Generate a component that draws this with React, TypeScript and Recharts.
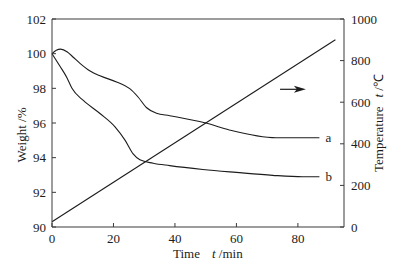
import React from "react";
import {
  ComposedChart,
  Line,
  XAxis,
  YAxis,
  ReferenceLine,
  ReferenceDot,
} from "recharts";

const FONT = '"Liberation Serif", "Times New Roman", serif';
const INK = "#1c1c1c";
const AXIS = "#3a3a3a";

// tick labels
const timeTicks = [0, 20, 40, 60, 80];
const weightTicks = [90, 92, 94, 96, 98, 100, 102];
const tempTicks = [0, 200, 400, 600, 800, 1000];

// weight loss curves (time in min, weight in %)
const curveA = [
  { t: 0, w: 100 },
  { t: 1.4, w: 100.2 },
  { t: 2.8, w: 100.26 },
  { t: 5, w: 100.1 },
  { t: 7, w: 99.78 },
  { t: 9.2, w: 99.43 },
  { t: 12.4, w: 99.0 },
  { t: 15.6, w: 98.72 },
  { t: 21, w: 98.37 },
  { t: 25.3, w: 97.98 },
  { t: 28, w: 97.5 },
  { t: 30.8, w: 96.88 },
  { t: 34, w: 96.56 },
  { t: 38.3, w: 96.42 },
  { t: 49.7, w: 96.01 },
  { t: 57.7, w: 95.6 },
  { t: 72.9, w: 95.15 },
  { t: 87, w: 95.15 },
];

const curveB = [
  { t: 0, w: 100 },
  { t: 2.5, w: 99.3 },
  { t: 4.9, w: 98.6 },
  { t: 6.5, w: 98.0 },
  { t: 10.2, w: 97.3 },
  { t: 15.6, w: 96.55 },
  { t: 20.5, w: 95.78 },
  { t: 23.8, w: 95.0 },
  { t: 26.4, w: 94.22 },
  { t: 28.6, w: 93.88 },
  { t: 32.9, w: 93.68 },
  { t: 38.3, w: 93.54 },
  { t: 49.1, w: 93.32 },
  { t: 59.9, w: 93.15 },
  { t: 71.8, w: 92.98 },
  { t: 81.5, w: 92.9 },
  { t: 87, w: 92.9 },
];

// furnace temperature (°C)
const tempLine = [
  { t: 0, temp: 25 },
  { t: 92.2, temp: 900 },
];

// arrow pointing to the temperature axis
const arrowSeg = [
  { x: 74.2, y: 662 },
  { x: 82.6, y: 662 },
];

const BottomTick = (p: any) => {
  const { x, y, payload } = p;
  return (
    <g>
      <line x1={x} y1={y} x2={x} y2={y - 4} stroke={AXIS} />
      <text x={x} y={y + 16} textAnchor="middle" fontSize={13} fontFamily={FONT} fill={INK}>
        {payload.value}
      </text>
    </g>
  );
};

const LeftTick = (p: any) => {
  const { x, y, payload } = p;
  return (
    <g>
      <line x1={x} y1={y} x2={x + 4} y2={y} stroke={AXIS} />
      <text x={x - 6} y={y + 4.5} textAnchor="end" fontSize={13} fontFamily={FONT} fill={INK}>
        {payload.value}
      </text>
    </g>
  );
};

const RightTick = (p: any) => {
  const { x, y, payload } = p;
  return (
    <g>
      <line x1={x} y1={y} x2={x - 4} y2={y} stroke={AXIS} />
      <text x={x + 7} y={y + 4.5} textAnchor="start" fontSize={13} fontFamily={FONT} fill={INK}>
        {payload.value}
      </text>
    </g>
  );
};

const XTitle = (p: any) => {
  const vb = p.viewBox;
  return (
    <text x={vb.x + 121} y={vb.y + 31} fontSize={13} fontFamily={FONT} fill={INK}>
      Time
      <tspan dx={12} fontStyle="italic">t</tspan>
      <tspan> /min</tspan>
    </text>
  );
};

const WeightTitle = (p: any) => {
  const vb = p.viewBox;
  const cx = vb.x + 26;
  const cy = 135;
  return (
    <text
      x={cx}
      y={cy}
      transform={`rotate(-90 ${cx} ${cy})`}
      textAnchor="middle"
      fontSize={13}
      fontFamily={FONT}
      fill={INK}
    >
      Weight /%
    </text>
  );
};

const TempTitle = (p: any) => {
  const vb = p.viewBox;
  const cx = vb.x + 39;
  const cy = vb.y + vb.height / 2;
  return (
    <text
      x={cx}
      y={cy}
      transform={`rotate(-90 ${cx} ${cy})`}
      textAnchor="middle"
      fontSize={13}
      fontFamily={FONT}
      fill={INK}
    >
      Temperature
      <tspan dx={9} fontStyle="italic">t</tspan>
      <tspan> /℃</tspan>
    </text>
  );
};

const Arrow = (p: any) => {
  const { x1, y1, x2, y2 } = p;
  return (
    <g>
      <line x1={x1} y1={y1} x2={x2 - 8} y2={y2} stroke={INK} strokeWidth={1.2} />
      <polygon
        points={`${x2},${y2} ${x2 - 12},${y2 - 3.5} ${x2 - 9},${y2} ${x2 - 12},${y2 + 3.5}`}
        fill={INK}
      />
    </g>
  );
};

const curveTag = (text: string) => (p: any) => {
  const vb = p.viewBox;
  return (
    <text x={vb.x + 6} y={vb.y + 4.5} fontSize={13} fontFamily={FONT} fill={INK}>
      {text}
    </text>
  );
};

export default function App() {
  return (
    <div style={{ position: "absolute", left: 0, top: 0, background: "#fff" }}>
      <ComposedChart width={394} height={269} margin={{ top: 19, right: 0, bottom: 0, left: 0 }}>
        <XAxis
          dataKey="t"
          type="number"
          domain={[0, 95]}
          ticks={timeTicks}
          height={42}
          tickLine={false}
          tickSize={0}
          tickMargin={0}
          axisLine={{ stroke: AXIS }}
          tick={BottomTick}
          label={XTitle}
        />
        <YAxis
          yAxisId="w"
          orientation="left"
          domain={[90, 102]}
          ticks={weightTicks}
          width={52}
          tickLine={false}
          tickSize={0}
          tickMargin={0}
          axisLine={{ stroke: AXIS }}
          tick={LeftTick}
          label={WeightTitle}
        />
        <YAxis
          yAxisId="tc"
          orientation="right"
          domain={[0, 1000]}
          ticks={tempTicks}
          width={50}
          tickLine={false}
          tickSize={0}
          tickMargin={0}
          axisLine={{ stroke: AXIS }}
          tick={RightTick}
          label={TempTitle}
        />
        <ReferenceLine yAxisId="w" y={102} stroke={AXIS} />
        <Line
          yAxisId="tc"
          data={tempLine}
          dataKey="temp"
          type="linear"
          stroke={INK}
          strokeWidth={1.1}
          dot={false}
          isAnimationActive={false}
        />
        <Line
          yAxisId="w"
          data={curveA}
          dataKey="w"
          type="monotone"
          stroke={INK}
          strokeWidth={1.1}
          dot={false}
          isAnimationActive={false}
        />
        <Line
          yAxisId="w"
          data={curveB}
          dataKey="w"
          type="monotone"
          stroke={INK}
          strokeWidth={1.1}
          dot={false}
          isAnimationActive={false}
        />
        <ReferenceLine yAxisId="tc" segment={arrowSeg} shape={Arrow} />
        <ReferenceDot yAxisId="w" x={87} y={95.15} r={0} stroke="none" fill="none" label={curveTag("a")} />
        <ReferenceDot yAxisId="w" x={87} y={92.9} r={0} stroke="none" fill="none" label={curveTag("b")} />
      </ComposedChart>
    </div>
  );
}
